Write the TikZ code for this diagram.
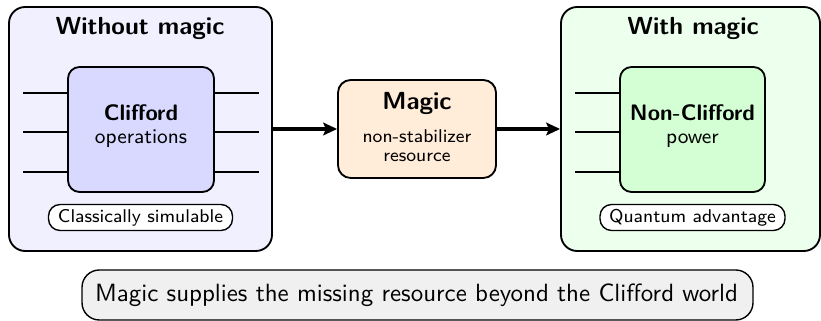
\documentclass[tikz,border=0pt]{standalone}
\usetikzlibrary{arrows.meta}
\begin{document}
\begin{tikzpicture}[x=0.4329pt, y=-0.4329pt, font=\sffamily,
  pxbox/.style 2 args={minimum width=#1*0.4329pt, minimum height=#2*0.4329pt, inner sep=0pt},
  panel/.style={draw=black, thick, rounded corners=7pt},
  gatebox/.style={draw=black, thick, rounded corners=5pt},
  tag/.style={draw=black, semithick, fill=white, rounded corners=5pt, font=\sffamily\footnotesize},
  wire/.style={thick},
  flow/.style={line width=1.8pt, -{Stealth[length=6pt, width=5.5pt, inset=1.2pt]}},
  title/.style={anchor=base, inner sep=0pt, font=\sffamily\bfseries\fontsize{10.7}{13}\selectfont},
  head/.style={anchor=base, inner sep=0pt, font=\sffamily\bfseries\fontsize{9.7}{12}\selectfont},
  sub/.style={anchor=base, inner sep=0pt, font=\sffamily\small},
  note/.style={anchor=base, inner sep=0pt, font=\sffamily\footnotesize},
]
\useasboundingbox (0,0) rectangle (821,321);

% left panel: Clifford circuits
\node[panel, fill=blue!6, pxbox={263}{244}] (left) at (140.5,129) {};
\node[gatebox, fill=blue!15, pxbox={146}{125}] (cliff) at (141,129.5) {};
\node[title] (lefttitle) at (140,35) {Without magic};
\node[head] (cliffname) at (141,121) {Clifford};
\node[sub] (cliffsub) at (141,144) {operations};
\node[tag, pxbox={184}{26}] (classical) at (140.5,217.5) {};
\node[note] (classicaltext) at (140.5,222.5) {Classically simulable};
\foreach \y [count=\i] in {93,132,172} {
  \coordinate (lin\i) at (23,\y);
  \coordinate (lout\i) at (259,\y);
  \draw[wire] (lin\i) -- (lin\i -| cliff.west);
  \draw[wire] (cliff.east |- lout\i) -- (lout\i);
}

% middle: the magic resource
\node[gatebox, fill=orange!15, rounded corners=5.5pt, pxbox={158}{98}] (magic) at (417,129) {};
\node[title] (magicname) at (417,109.5) {Magic};
\node[note] (magicsub1) at (417,142.5) {non-stabilizer};
\node[note] (magicsub2) at (417,161.5) {resource};

% right panel: non-Clifford power
\node[panel, fill=green!7, pxbox={259}{244}] (right) at (690.5,129) {};
\node[gatebox, fill=green!17, pxbox={145}{125}] (noncliff) at (692.5,129.5) {};
\node[title] (righttitle) at (693,35) {With magic};
\node[head] (noncliffname) at (692.5,120.5) {Non-Clifford};
\node[sub] (noncliffsub) at (692.5,144) {power};
\node[tag, pxbox={185}{26}] (quantum) at (692.5,217.5) {};
\node[note] (quantumtext) at (692.5,222.5) {Quantum advantage};
\foreach \y [count=\i] in {93,132,172} {
  \coordinate (rin\i) at (575,\y);
  \draw[wire] (rin\i) -- (rin\i -| noncliff.west);
}

% flow between the panels
\draw[flow] (left.east) -- (magic.west);
\draw[flow] (magic.east) -- (right.west);

% summary banner
\node[draw=black, semithick, fill=black!6, rounded corners=7.5pt, pxbox={671}{50}] (summary) at (417.5,295) {};
\node[anchor=base, inner sep=0pt, font=\sffamily\fontsize{10.8}{13}\selectfont] (summarytext) at (416.5,301.5)
  {Magic supplies the missing resource beyond the Clifford world};
\end{tikzpicture}
\end{document}
